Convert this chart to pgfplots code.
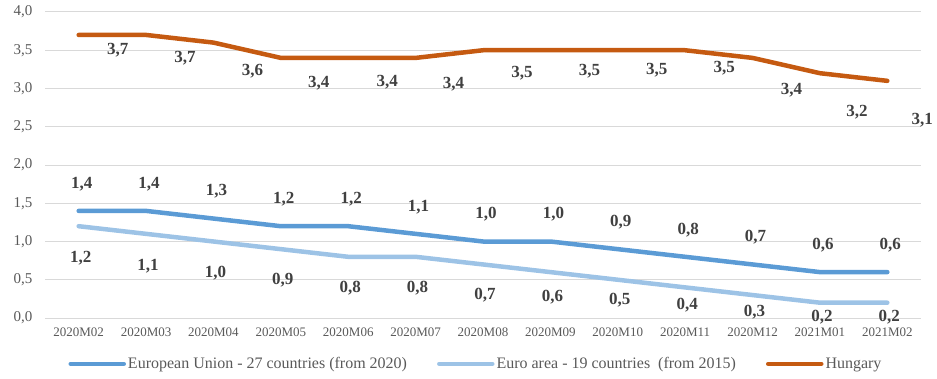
\documentclass[border=0pt]{standalone}
\usepackage{fontspec}
\setmainfont{Liberation Serif}
\usepackage{pgfplots}
\usepackage{pgfplotstable}
\pgfplotsset{compat=1.18}

\definecolor{euBlue}{HTML}{5B9BD5}
\definecolor{eaBlue}{HTML}{9DC3E6}
\definecolor{huOrange}{HTML}{C55A11}
\definecolor{gridGray}{HTML}{D9D9D9}
\definecolor{tickGray}{HTML}{595959}
\definecolor{labelGray}{HTML}{404040}

% columns: month index, value, label offsets (pt)
\pgfplotstableread{
x y dx dy
0 1.4 3 27
1 1.4 3 27
2 1.3 3 27
3 1.2 3 27
4 1.2 3 27
5 1.1 3 27
6 1.0 3 27
7 1.0 3 27
8 0.9 3 27
9 0.8 3 27
10 0.7 3 27
11 0.6 3 27
12 0.6 3 27
}\eu
\pgfplotstableread{
x y dx dy
0 1.2 2 -32
1 1.1 2 -32
2 1.0 2 -31.5
3 0.9 2 -31
4 0.8 2 -31
5 0.8 2 -31
6 0.7 2 -30.5
7 0.6 2 -25
8 0.5 2 -20
9 0.4 2 -18
10 0.3 2 -17
11 0.2 2 -14
12 0.2 2 -14
}\euroarea
\pgfplotstableread{
x y dx dy
0 3.7 39 -15
1 3.7 39 -23
2 3.6 39 -29
3 3.4 38 -25
4 3.4 39 -24
5 3.4 38 -26
6 3.5 39 -23
7 3.5 39 -21
8 3.5 39 -20
9 3.5 39 -18
10 3.4 39 -32
11 3.2 37 -39
12 3.1 35 -39
}\hungary

\begin{document}
\begin{tikzpicture}
\path[use as bounding box] (-45pt,-60pt) rectangle (892pt,318pt);
\begin{axis}[
  at={(0pt,0pt)}, anchor=south west,
  scale only axis, width=876pt, height=306pt,
  xmin=-0.5, xmax=12.5, ymin=0, ymax=4,
  clip=false,
  axis line style={draw=none},
  major tick length=0pt,
  xtick={0,...,12},
  xticklabels={2020M02,2020M03,2020M04,2020M05,2020M06,2020M07,2020M08,2020M09,2020M10,2020M11,2020M12,2021M01,2021M02},
  ytick={0,0.5,...,4},
  ymajorgrids,
  grid style={color=gridGray, line width=1pt},
  /pgf/number format/.cd, use comma, fixed, fixed zerofill, precision=1, assume math mode=true,
  /pgfplots/.cd,
  xticklabel style={font=\fontsize{13}{15}\selectfont, text=tickGray, yshift=-6pt},
  yticklabel style={font=\fontsize{15}{17}\selectfont, text=tickGray, xshift=-9pt},
  legend columns=3,
  legend style={
    at={(0.492,-0.150)}, anchor=center, draw=none, fill=none,
    font=\fontsize{16}{18}\selectfont, text=tickGray,
    /tikz/every even column/.append style={column sep=28pt},
    inner sep=0pt,
    nodes={inner xsep=2pt},
  },
  legend cell align=left,
  legend image code/.code={\draw[#1, line cap=round] (0pt,0pt) -- (53pt,0pt);},
  every axis plot/.append style={line width=4.5pt, line cap=round, line join=round, mark=none},
  nodes near coords,
  visualization depends on={\thisrow{dx} \as \labdx},
  visualization depends on={\thisrow{dy} \as \labdy},
  every node near coord/.append style={anchor=center, xshift=\labdx pt, yshift=\labdy pt,
    font=\fontsize{17}{19}\selectfont\bfseries, text=labelGray, inner sep=0pt},
]
\addplot[euBlue] table[x=x, y=y] {\eu};
\addlegendentry{European Union - 27 countries (from 2020)}
\addplot[eaBlue] table[x=x, y=y] {\euroarea};
\addlegendentry{Euro area - 19 countries\ \ (from 2015)}
\addplot[huOrange] table[x=x, y=y] {\hungary};
\addlegendentry{Hungary}
\end{axis}
\end{tikzpicture}
\end{document}
